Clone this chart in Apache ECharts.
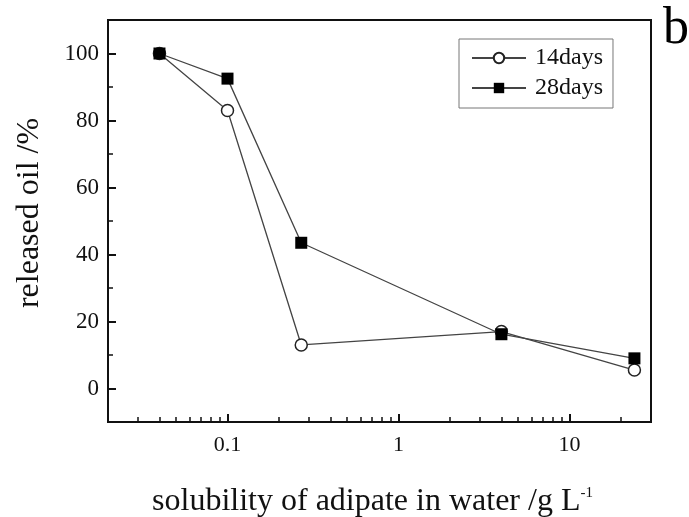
<!DOCTYPE html>
<html>
<head>
<meta charset="utf-8">
<script src="https://cdn.jsdelivr.net/npm/echarts@6/dist/echarts.min.js"></script>
<style>
  html, body { margin: 0; padding: 0; background: #fff; }
  #chart { width: 689px; height: 517px; }
</style>
</head>
<body>
<div id="chart"></div>
<script>
// Solubility of the adipate in water (g/L) and released oil (%)
const solubility = [0.04, 0.1, 0.27, 4, 24];
const released14 = [100, 83, 13, 17, 5.5];
const released28 = [100, 92.5, 43.5, 16.2, 9];

// Axis ticks
const xMajorTicks = [0.1, 1, 10];
const xMinorTicks = [0.03, 0.04, 0.05, 0.06, 0.07, 0.08, 0.09,
                     0.2, 0.3, 0.4, 0.5, 0.6, 0.7, 0.8, 0.9,
                     2, 3, 4, 5, 6, 7, 8, 9, 20];
const yMajorTicks = [0, 20, 40, 60, 80, 100];
const yMinorTicks = [10, 30, 50, 70, 90];

const FONT = 'Liberation Serif';
const INK = '#111';

const pairs = (xs, ys) => xs.map((x, i) => [x, ys[i]]);

const chart = echarts.init(document.getElementById('chart'), null, { renderer: 'canvas' });

const xBase = {
  type: 'log',
  logBase: 10,
  min: 0.02,
  max: 30,
  gridIndex: 0,
  splitLine: { show: false },
  minorTick: { show: false },
  minorSplitLine: { show: false }
};
const yBase = {
  type: 'value',
  min: -10,
  max: 110,
  gridIndex: 0,
  splitLine: { show: false },
  minorTick: { show: false }
};

chart.setOption({
  animation: false,
  backgroundColor: '#fff',
  grid: {
    left: 108, top: 20, right: 38, bottom: 95,
    outerBoundsMode: 'none',
    containLabel: false,
    show: true,
    borderColor: INK,
    borderWidth: 2,
    backgroundColor: 'transparent'
  },
  xAxis: [
    Object.assign({}, xBase, {
      position: 'bottom',
      axisLine: { show: true, onZero: false, lineStyle: { color: INK, width: 2 } },
      axisTick: { show: true, inside: true, length: 8, lineStyle: { color: INK, width: 2 }, customValues: xMajorTicks },
      axisLabel: {
        show: true, margin: 12, color: INK, fontFamily: FONT, fontSize: 22,
        customValues: xMajorTicks,
        formatter: v => String(v)
      },
      name: 'solubility of adipate in water /g L{sup|-1}',
      nameLocation: 'middle',
      nameGap: 64,
      nameTextStyle: {
        color: INK, fontFamily: FONT, fontSize: 32,
        padding: [0, 14, 0, 0],
        rich: { sup: { fontFamily: FONT, fontSize: 15, color: INK, verticalAlign: 'top', padding: [0, 0, 14, 0] } }
      }
    }),
    Object.assign({}, xBase, {
      position: 'bottom',
      axisLine: { show: false, onZero: false },
      axisTick: { show: true, inside: true, length: 5, lineStyle: { color: INK, width: 1.5 }, customValues: xMinorTicks },
      axisLabel: { show: false }
    })
  ],
  yAxis: [
    Object.assign({}, yBase, {
      position: 'left',
      axisLine: { show: true, onZero: false, lineStyle: { color: INK, width: 2 } },
      axisTick: { show: true, inside: true, length: 8, lineStyle: { color: INK, width: 2 }, customValues: yMajorTicks },
      axisLabel: {
        show: true, margin: 9, color: INK, fontFamily: FONT, fontSize: 23,
        customValues: yMajorTicks
      },
      name: 'released oil /%',
      nameLocation: 'middle',
      nameGap: 62,
      nameTextStyle: { color: INK, fontFamily: FONT, fontSize: 32, padding: [0, 0, 0, 16] }
    }),
    Object.assign({}, yBase, {
      position: 'left',
      axisLine: { show: false, onZero: false },
      axisTick: { show: true, inside: true, length: 5, lineStyle: { color: INK, width: 1.5 }, customValues: yMinorTicks },
      axisLabel: { show: false }
    })
  ],
  legend: {
    orient: 'vertical',
    left: 459,
    top: 39,
    padding: [7, 10, 8, 12],
    itemGap: 6,
    itemWidth: 54,
    itemHeight: 13,
    borderColor: '#777',
    borderWidth: 1,
    backgroundColor: '#fff',
    textStyle: { color: INK, fontFamily: FONT, fontSize: 24, padding: [0, 0, 0, 4] },
    data: ['14days', '28days']
  },
  graphic: [{
    type: 'text',
    left: 663,
    top: 3,
    style: { text: 'b', font: '52px "Liberation Serif"', fill: '#000' }
  }],
  series: [
    {
      name: '14days',
      type: 'line',
      xAxisIndex: 0,
      yAxisIndex: 0,
      data: pairs(solubility, released14),
      symbol: 'circle',
      symbolSize: 12,
      lineStyle: { color: '#444', width: 1.3 },
      itemStyle: { color: '#fff', borderColor: '#222', borderWidth: 1.5 },
      z: 3
    },
    {
      name: '28days',
      type: 'line',
      xAxisIndex: 0,
      yAxisIndex: 0,
      data: pairs(solubility, released28),
      symbol: 'rect',
      symbolSize: 12,
      lineStyle: { color: '#444', width: 1.3 },
      itemStyle: { color: '#000', borderColor: '#000', borderWidth: 0 },
      z: 4
    }
  ]
});
</script>
</body>
</html>
